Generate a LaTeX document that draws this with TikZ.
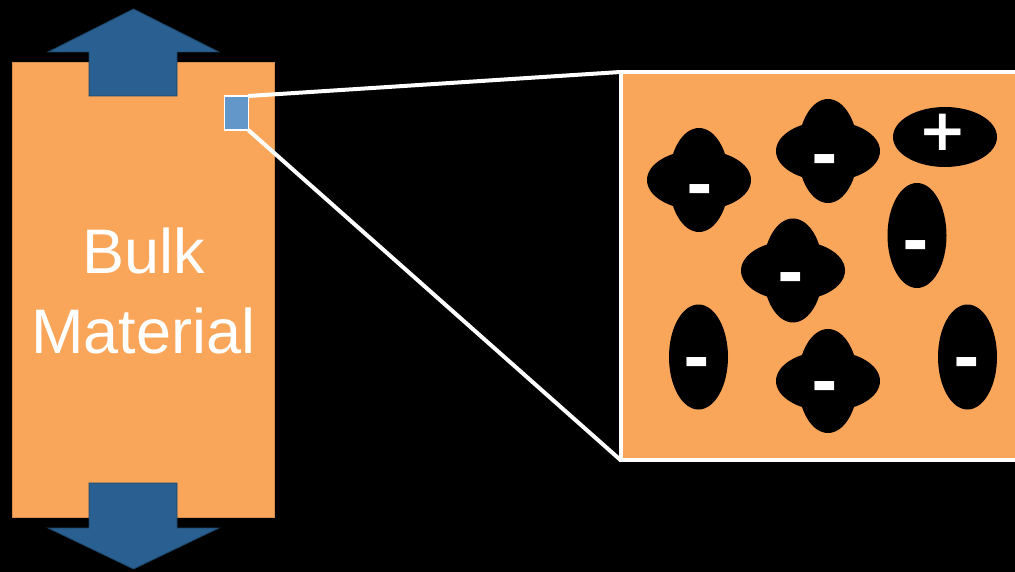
\documentclass[tikz,border=0pt]{standalone}
\usepackage{fontspec}
\setmainfont{Liberation Sans}
\newfontfamily\signfont{DejaVu Sans}
\usepackage{tikz}
\usetikzlibrary{positioning}

\definecolor{bulkorange}{HTML}{F9A65A}
\definecolor{arrowblue}{HTML}{2A5F91}
\definecolor{zoomblue}{HTML}{6397C9}

\begin{document}
\begin{tikzpicture}[
    x=1pt, y=-1pt,
    bulk/.style={rectangle, draw=bulkorange!85!black, line width=0.6pt, fill=bulkorange, minimum width=262pt, minimum height=455pt, inner sep=0pt, outer sep=0pt},
    zoombox/.style={rectangle, draw=white, line width=1.2pt, fill=zoomblue, minimum width=23.5pt, minimum height=34pt, inner sep=0pt, outer sep=0pt},
    detail/.style={rectangle, draw=white, line width=4pt, fill=bulkorange, minimum width=409.5pt, minimum height=388pt, inner sep=0pt, outer sep=0pt},
    push/.style={fill=arrowblue, draw=arrowblue!70!black, line width=0.8pt},
    link/.style={draw=white, line width=4pt},
    ion/.style={fill=black},
    bulktext/.style={text=white, font=\fontsize{63}{80}\selectfont, align=center, inner sep=0pt},
    minussign/.style={text=white, font=\signfont\bfseries\fontsize{64}{64}\selectfont, inner sep=0pt},
    plussign/.style={minussign, font=\signfont\bfseries\fontsize{58}{58}\selectfont}
]
    \path[use as bounding box, fill=black] (0,0) rectangle (1015,572);
    \clip (0,0) rectangle (1015,572);

    % bulk piece under load
    \node[bulk] (bulk) at (143,289.5) {};
    \draw[push] (89,96) -- (89,52) -- (48,52) -- (133.5,9) -- (219,52) -- (177,52) -- (177,96) -- cycle;
    \draw[push] (89,483) -- (177,483) -- (177,528) -- (219,528) -- (133.5,569) -- (48,528) -- (89,528) -- cycle;
    \node[bulktext] (name) at (143.5,290.5) {Bulk\\Material};

    % magnified region
    \node[zoombox] (zoom) at (236.5,113) {};
    \node[detail] (detail) at (825.25,266) {};
    \draw[link] (zoom.north east) -- (detail.north west);
    \draw[link] (zoom.south east) -- (detail.south west);

    % ions
    \fill[ion] (699,180) ellipse [x radius=52pt, y radius=30pt] (699,180) ellipse [x radius=30pt, y radius=52pt];
    \fill[ion] (828,151) ellipse [x radius=52pt, y radius=30pt] (828,151) ellipse [x radius=30pt, y radius=52pt];
    \fill[ion] (793,270.5) ellipse [x radius=52pt, y radius=30pt] (793,270.5) ellipse [x radius=30pt, y radius=52pt];
    \fill[ion] (828,381) ellipse [x radius=52pt, y radius=30pt] (828,381) ellipse [x radius=30pt, y radius=52pt];
    \fill[ion] (945,137) ellipse [x radius=52pt, y radius=30pt];
    \fill[ion] (917,235.5) ellipse [x radius=29.5pt, y radius=52.5pt];
    \fill[ion] (698.5,357) ellipse [x radius=29.5pt, y radius=52.5pt];
    \fill[ion] (967.5,357) ellipse [x radius=29.5pt, y radius=52.5pt];

    \node[minussign] (m1) at (700,196) {-};
    \node[minussign] (m2) at (825,166) {-};
    \node[minussign] (m3) at (791,284) {-};
    \node[minussign] (m4) at (825,393) {-};
    \node[minussign] (m5) at (916,252) {-};
    \node[minussign] (m6) at (697,369) {-};
    \node[minussign] (m7) at (967,369) {-};
    \node[plussign] (p1) at (943,132) {+};
\end{tikzpicture}
\end{document}
